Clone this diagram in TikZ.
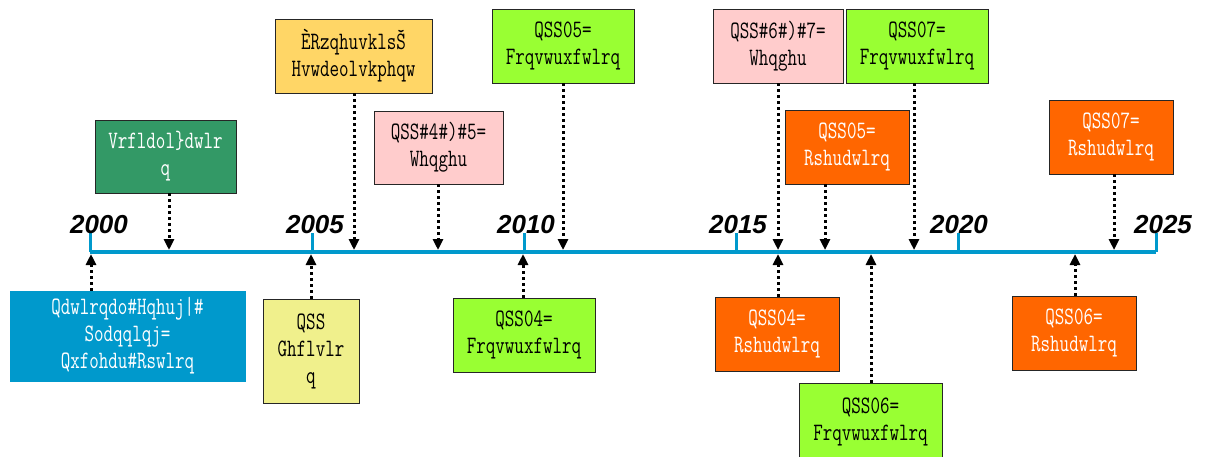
\documentclass[tikz,border=0pt]{standalone}
\usepackage{fontspec}
\setmainfont{Liberation Sans}
\newfontfamily\boxfont[FakeStretch=0.74]{Latin Modern Mono}
\usetikzlibrary{arrows.meta}

\definecolor{axisblue}{RGB}{0,153,204}
\definecolor{darkgreen}{RGB}{51,153,102}
\definecolor{sandorange}{RGB}{255,214,102}
\definecolor{lightpink}{RGB}{255,204,204}
\definecolor{limegreen}{RGB}{153,255,51}
\definecolor{deeporange}{RGB}{255,102,0}
\definecolor{paleyellow}{RGB}{240,240,140}

\begin{document}
\begin{tikzpicture}[x=1pt,y=-1pt,
    box/.style={draw=black!85,line width=0.8pt,align=center,inner sep=0pt,
      font=\boxfont\fontsize{25}{27}\selectfont},
    pin/.style={draw,line width=3pt,dash pattern=on 3pt off 3pt,
      -{Triangle[length=11pt,width=10pt]},shorten >=2pt},
    year/.style={font=\bfseries\itshape\fontsize{26}{26}\selectfont,inner sep=0pt}]

      \useasboundingbox (0,0) rectangle (1206,456);

      % time axis
      \coordinate (y0)  at (90,252);
      \coordinate (y5)  at (312,252);
      \coordinate (y10) at (524,252);
      \coordinate (y15) at (736,252);
      \coordinate (y20) at (958,252);
      \coordinate (y25) at (1156,252);
      \draw[axisblue,line width=4pt] (y0) -- (y25);
      \foreach \t in {y0,y5,y10,y15,y20,y25}
        \draw[axisblue,line width=3pt] (\t) -- ++(0,-19);

      \node[year] (l0)  at (99,225)   {2000};
      \node[year] (l5)  at (315,225)  {2005};
      \node[year] (l10) at (526,225)  {2010};
      \node[year] (l15) at (738,225)  {2015};
      \node[year] (l20) at (959,225)  {2020};
      \node[year] (l25) at (1163,225) {2025};

      % arrow ends on the axis
      \coordinate (t1) at (169,252);
      \coordinate (t2) at (354,252);
      \coordinate (t3) at (438,252);
      \coordinate (t4) at (563,252);
      \coordinate (t5) at (778,252);
      \coordinate (t6) at (825,252);
      \coordinate (t7) at (914,252);
      \coordinate (t8) at (1114,252);
      \coordinate (b1) at (91,252);
      \coordinate (b2) at (311,252);
      \coordinate (b3) at (523,252);
      \coordinate (b4) at (778,252);
      \coordinate (b5) at (871,252);
      \coordinate (b6) at (1075,252);

      \begin{scope}[every node/.style={box,text=black}]
        \node[fill=axisblue,draw=axisblue,text=white,minimum width=235pt,minimum height=90pt]
          (1) at (127.5,336) {Qdwlrqdo\#Hqhuj|\#\\Sodqqlqj=\\Qxfohdu\#Rswlrq};
        \node[fill=darkgreen,text=white,minimum width=141pt,minimum height=73pt]
          (2) at (165.5,156.5) {Vrfldol\}dwlr\\q};
        \node[fill=sandorange,minimum width=157pt,minimum height=74pt]
          (3) at (353.5,56) {ÈRzqhuvklsŠ\\Hvwdeolvkphqw};
        \node[fill=lightpink,minimum width=129pt,minimum height=73pt]
          (4) at (438.5,147.5) {QSS\#4\#)\#5=\\Whqghu};
        \node[fill=limegreen,minimum width=142pt,minimum height=74pt]
          (5) at (563,46) {QSS05=\\Frqvwuxfwlrq};
        \node[fill=lightpink,minimum width=130pt,minimum height=74pt]
          (6) at (778,46) {QSS\#6\#)\#7=\\Whqghu};
        \node[fill=limegreen,minimum width=142pt,minimum height=74pt]
          (7) at (917,46) {QSS07=\\Frqvwuxfwlrq};
        \node[fill=deeporange,text=white,minimum width=124pt,minimum height=74pt]
          (8) at (847,147) {QSS05=\\Rshudwlrq};
        \node[fill=deeporange,text=white,minimum width=124pt,minimum height=74pt]
          (9) at (1111,137) {QSS07=\\Rshudwlrq};
        \node[fill=paleyellow,minimum width=96pt,minimum height=104pt]
          (10) at (311,351) {QSS\\Ghflvlr\\q};
        \node[fill=limegreen,minimum width=142pt,minimum height=74pt]
          (11) at (524,335) {QSS04=\\Frqvwuxfwlrq};
        \node[fill=deeporange,text=white,minimum width=124pt,minimum height=74pt]
          (12) at (777,334) {QSS04=\\Rshudwlrq};
        \node[fill=limegreen,minimum width=143pt,minimum height=77pt]
          (13) at (870.5,421.5) {QSS06=\\Frqvwuxfwlrq};
        \node[fill=deeporange,text=white,minimum width=124pt,minimum height=74pt]
          (14) at (1074,333) {QSS06=\\Rshudwlrq};
      \end{scope}

      \begin{scope}[every edge/.style={pin}]
        \path (t1 |- 2.south)  edge (t1);
        \path (t2 |- 3.south)  edge (t2);
        \path (t3 |- 4.south)  edge (t3);
        \path (t4 |- 5.south)  edge (t4);
        \path (t5 |- 6.south)  edge (t5);
        \path (t6 |- 8.south)  edge (t6);
        \path (t7 |- 7.south)  edge (t7);
        \path (t8 |- 9.south)  edge (t8);
        \path (b1 |- 1.north)  edge (b1);
        \path (b2 |- 10.north) edge (b2);
        \path (b3 |- 11.north) edge (b3);
        \path (b4 |- 12.north) edge (b4);
        \path (b5 |- 13.north) edge (b5);
        \path (b6 |- 14.north) edge (b6);
      \end{scope}

    \end{tikzpicture}
\end{document}
